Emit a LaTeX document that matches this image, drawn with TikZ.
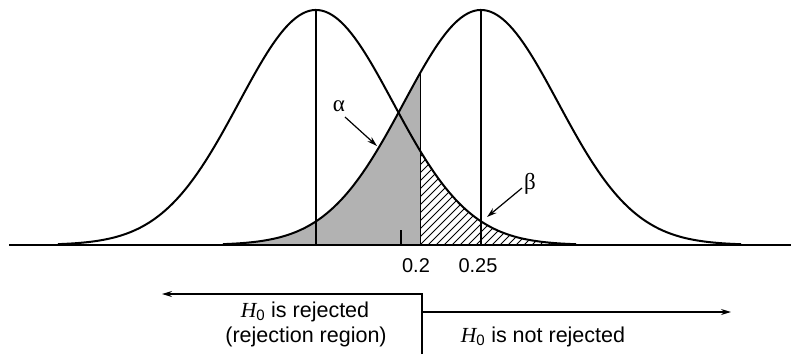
\documentclass[tikz,border=0pt]{standalone}
\usepackage{fontspec}
\setmainfont{Liberation Sans}
\newfontfamily\serifit{Liberation Serif}
\usetikzlibrary{arrows.meta}
\begin{document}
\begin{tikzpicture}[x=1pt,y=-1pt,
  curve/.style={line width=2pt},
  axis/.style={line width=1.3pt},
  arr/.style={line width=1.2pt,-{Stealth[length=10pt,width=6pt]}},
  lbl/.style={font=\fontsize{21.5}{25}\selectfont,anchor=base,inner sep=0pt},
  num/.style={font=\fontsize{20}{24}\selectfont,anchor=base,inner sep=0pt},
  greek/.style={font=\serifit\fontsize{23}{26}\selectfont,inner sep=0pt}]
\useasboundingbox (0,0) rectangle (791,354);
\def\gA{235}\def\gS{77}
% grey area under right curve up to 0.2
\fill[gray!60] (223,245) -- plot[domain=223:420,samples=80] (\x,{245-\gA*exp(-((\x-481)/\gS)^2/2)}) -- (420,245) -- cycle;
% hatched area under left curve from 0.2
\begin{scope}
\clip (420,245) -- plot[domain=420:576,samples=80] (\x,{245-\gA*exp(-((\x-316)/\gS)^2/2)}) -- (576,245) -- cycle;
\foreach \a in {220,228,...,600} \draw[line width=0.9pt] (\a,245) -- ({\a+200},45);
\end{scope}
% curves
\draw[curve] plot[domain=58:576,samples=160] (\x,{245-\gA*exp(-((\x-316)/\gS)^2/2)});
\draw[curve] plot[domain=223:741,samples=160] (\x,{245-\gA*exp(-((\x-481)/\gS)^2/2)});
% coordinates
\coordinate (b1) at (316,245); \coordinate (p1) at (316,10);
\coordinate (b2) at (481,245); \coordinate (p2) at (481,10);
\coordinate (c0) at (420,245); \coordinate (c1) at (420,{245-\gA*exp(-((420-481)/\gS)^2/2)});
\coordinate (t0) at (401,245); \coordinate (t1) at (401,230);
\coordinate (bl) at (9,245); \coordinate (br) at (791,245);
\draw[line width=1.7pt] (b1) -- (p1);
\draw[line width=2.5pt] (b2) -- (p2);
\draw[line width=1pt] (c0) -- (c1);
\draw[line width=1.3pt] (t0) -- (t1);
\draw[axis] (bl) -- (br);
% labels
\node[num] (n1) at (416,272) {0.2};
\node[num] (n2) at (478,272) {0.25};
\node[greek] (al) at (339,106) {α};
\node[greek] (be) at (530,184) {β};
\coordinate (alt) at (377,146);
\coordinate (bet) at (487,217);
\draw[arr] (345,117) -- (alt);
\draw[arr] (522,188) -- (bet);
% decision arrows
\coordinate (d0) at (422,354); \coordinate (d1) at (422,294);
\coordinate (dl) at (162,294);
\coordinate (r0) at (422,312); \coordinate (r1) at (731,312);
\draw[arr] (d0) -- (d1) -- (dl);
\draw[arr] (r0) -- (r1);
\node[lbl] (t1) at (305,317) {{\serifit\itshape H}\textsubscript{0} is rejected};
\node[lbl] (t2) at (306,342) {(rejection region)};
\node[lbl] (t3) at (543,342) {{\serifit\itshape H}\textsubscript{0} is not rejected};
\end{tikzpicture}
\end{document}
